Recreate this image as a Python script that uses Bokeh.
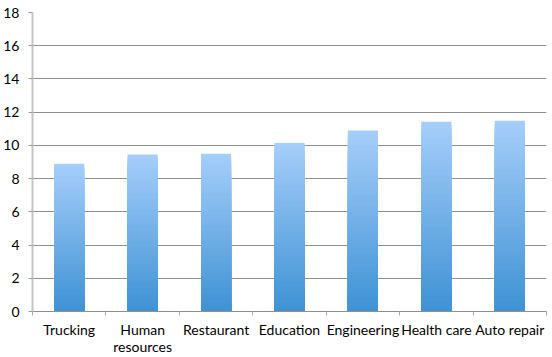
import numpy as np
from bokeh.plotting import figure
from bokeh.models import ColumnDataSource, FixedTicker, Range1d
from bokeh.embed import file_html
from bokeh.resources import INLINE

# ---- data ----
categories = ["Trucking", "Human resources", "Restaurant", "Education",
              "Engineering", "Health care", "Auto repair"]
category_labels = ["Trucking", "Human\nresources", "Restaurant", "Education",
                   "Engineering", "Health care", "Auto repair"]
values = [8.9, 9.45, 9.5, 10.15, 10.9, 11.42, 11.48]
y_ticks = [0, 2, 4, 6, 8, 10, 12, 14, 16, 18]

# ---- gradient bars (nested bars, light at top -> dark at bottom) ----
top_rgb = np.array([166, 206, 250])
bot_rgb = np.array([62, 146, 212])
N = 60
xs, tops, colors = [], [], []
for k in range(N, 0, -1):
    t = (k - 0.5) / N
    c = bot_rgb + (top_rgb - bot_rgb) * t
    col = "#%02x%02x%02x" % tuple(int(round(v)) for v in c)
    for i, v in enumerate(values):
        xs.append(i)
        tops.append(v * k / N)
        colors.append(col)
src = ColumnDataSource(dict(x=xs, top=tops, color=colors))

n = len(categories)
p = figure(frame_width=514, frame_height=299, output_backend="svg",
           toolbar_location=None,
           x_range=Range1d(-0.5, n - 0.5), y_range=Range1d(0, 18),
           min_border_left=31, min_border_right=7, min_border_top=12,
           min_border_bottom=46)
p.outline_line_color = None
p.background_fill_color = "white"
p.border_fill_color = "white"

p.vbar(x="x", top="top", bottom=0, width=0.41, fill_color="color",
       line_color=None, source=src)

# grid
p.xgrid.visible = False
p.ygrid.ticker = FixedTicker(ticks=y_ticks)
p.ygrid.grid_line_color = "#8f8f8f"
p.ygrid.grid_line_width = 1

# y axis
ya = p.yaxis[0]
ya.ticker = FixedTicker(ticks=y_ticks)
ya.axis_line_color = "#c4c4c4"
ya.axis_line_width = 2
ya.major_tick_out = 4
ya.major_tick_in = 0
ya.major_tick_line_color = "#9a9a9a"
ya.minor_tick_line_color = None
ya.major_label_standoff = 9
ya.major_label_text_font = "Lato"
ya.major_label_text_font_size = "14px"
ya.major_label_text_color = "black"

# x axis
xa = p.xaxis[0]
xa.ticker = FixedTicker(ticks=list(range(n)),
                        minor_ticks=[i - 0.5 for i in range(n + 1)])
xa.major_label_overrides = {i: lab for i, lab in enumerate(category_labels)}
xa.axis_line_color = "#8f8f8f"
xa.major_tick_line_color = None
xa.major_tick_out = 0
xa.major_tick_in = 0
xa.minor_tick_out = 4
xa.minor_tick_in = 0
xa.minor_tick_line_color = "#a8a8a8"
xa.major_label_standoff = 5
xa.major_label_text_font = "Lato"
xa.major_label_text_font_size = "14px"
xa.major_label_text_line_height = 1.0
xa.major_label_text_color = "black"

open("out.html", "w").write(file_html(p, INLINE))
